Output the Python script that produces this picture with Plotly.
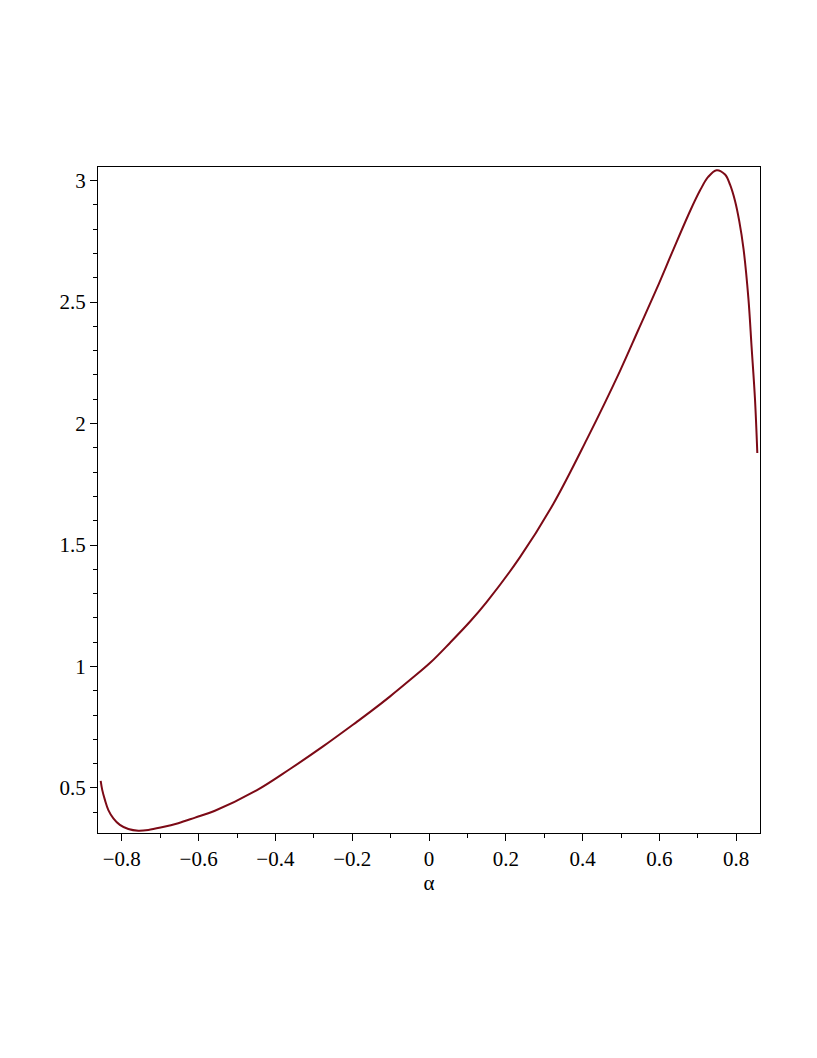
import plotly.graph_objects as go

alpha = [-0.855, -0.851, -0.844, -0.835, -0.822, -0.805, -0.783, -0.757, -0.731,
         -0.696, -0.653, -0.609, -0.559, -0.449, -0.362, -0.275, -0.188,
         -0.154, -0.102, -0.049, 0.003, 0.055, 0.107, 0.150, 0.237, 0.324, 0.411,
         0.497, 0.545, 0.593, 0.636, 0.680, 0.706, 0.727, 0.749, 0.771, 0.784,
         0.797, 0.808, 0.819, 0.832, 0.840, 0.849, 0.855]
value = [0.529, 0.492, 0.451, 0.409, 0.375, 0.348, 0.331, 0.324, 0.327,
         0.338, 0.355, 0.378, 0.405, 0.490, 0.578, 0.672, 0.772,
         0.812, 0.876, 0.945, 1.015, 1.098, 1.185, 1.265, 1.450, 1.670, 1.935,
         2.215, 2.385, 2.555, 2.715, 2.875, 2.960, 3.015, 3.043, 3.025, 2.983,
         2.916, 2.833, 2.720, 2.511, 2.318, 2.099, 1.879]

x_tickvals = [-0.8, -0.6, -0.4, -0.2, 0, 0.2, 0.4, 0.6, 0.8]
x_ticktext = ["\u22120.8", "\u22120.6", "\u22120.4", "\u22120.2", "0", "0.2", "0.4", "0.6", "0.8"]
y_tickvals = [0.5, 1, 1.5, 2, 2.5, 3]
y_ticktext = ["0.5", "1", "1.5", "2", "2.5", "3"]

fig = go.Figure()
fig.add_trace(go.Scatter(x=alpha, y=value, mode="lines", line_shape="spline",
                         line=dict(color="#7C0A16", width=2, smoothing=1.0, simplify=False),
                         showlegend=False))

font = dict(family="Liberation Serif", size=21, color="black")
fig.update_layout(
    width=817, height=1058,
    margin=dict(l=90, r=65, t=159, b=233, autoexpand=False),
    plot_bgcolor="white", paper_bgcolor="white",
    font=font,
)
fig.update_xaxes(range=[-0.862, 0.862], showgrid=False, zeroline=False, automargin=False,
                 showline=True, linecolor="black", linewidth=1, mirror=True,
                 ticks="outside", ticklen=7, tickcolor="black", tickwidth=1,
                 tickvals=x_tickvals, ticktext=x_ticktext, tickfont=font,
                 minor=dict(dtick=0.1, tick0=0, ticks="outside", ticklen=4, tickcolor="black"),
                 title=dict(text="α", font=font, standoff=5))
fig.update_yaxes(range=[0.3146, 3.056], showgrid=False, zeroline=False, automargin=False,
                 showline=True, linecolor="black", linewidth=1, mirror=True,
                 ticks="outside", ticklen=7, tickcolor="black", tickwidth=1,
                 tickvals=y_tickvals, ticktext=y_ticktext, tickfont=font,
                 minor=dict(dtick=0.1, tick0=0, ticks="outside", ticklen=4, tickcolor="black"))

fig.write_html("out.html")
